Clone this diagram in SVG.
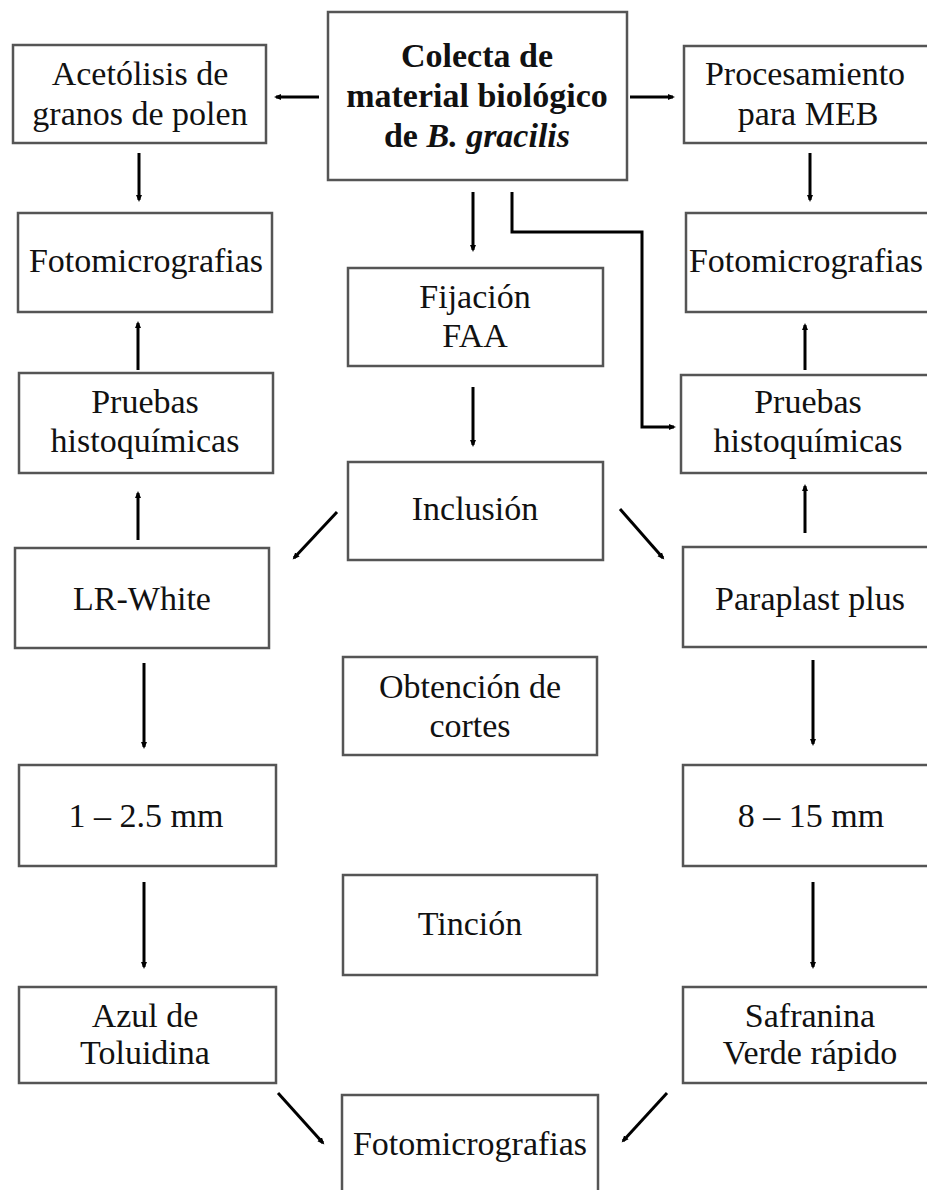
<svg xmlns="http://www.w3.org/2000/svg" width="927" height="1190" viewBox="0 0 927 1190">
<defs>
<marker id="ah" markerUnits="userSpaceOnUse" markerWidth="8" markerHeight="8" refX="5" refY="4" orient="auto">
<path d="M0,1 L7,4 L0,7 Z" fill="#000"/>
</marker>
<style>
.box{fill:#fff;stroke:#555;stroke-width:2.5}
.t{font-family:"Liberation Serif","Times New Roman",serif;font-size:34px;fill:#111;text-anchor:middle}
.b{font-weight:bold}
.c line,.c polyline{stroke:#000;stroke-width:3;fill:none;marker-end:url(#ah)}
</style>
</defs>
<rect width="927" height="1190" fill="#fff"/>
<g id="colecta"><rect class="box" x="328" y="12" width="299" height="168"/>
<text class="t b" x="477" y="67">Colecta de</text>
<text class="t b" x="477" y="107">material biológico</text>
<text class="t b" x="477" y="147">de <tspan font-style="italic">B. gracilis</tspan></text></g>
<g id="acetolisis"><rect class="box" x="13" y="45" width="253" height="98"/>
<text class="t" x="140" y="85">Acetólisis de</text>
<text class="t" x="140" y="125">granos de polen</text></g>
<g id="procesamiento"><rect class="box" x="684" y="46" width="256" height="97"/>
<text class="t" x="805" y="85">Procesamiento</text>
<text class="t" x="808" y="125">para MEB</text></g>
<g id="foto1"><rect class="box" x="18" y="213" width="254" height="99"/>
<text class="t" x="146" y="272">Fotomicrografias</text></g>
<g id="fijacion"><rect class="box" x="348" y="268" width="255" height="98"/>
<text class="t" x="475" y="308">Fijación</text>
<text class="t" x="475" y="347">FAA</text></g>
<g id="foto2"><rect class="box" x="686" y="213" width="254" height="99"/>
<text class="t" x="806" y="272">Fotomicrografias</text></g>
<g id="pruebas1"><rect class="box" x="19" y="373" width="254" height="100"/>
<text class="t" x="145" y="413">Pruebas</text>
<text class="t" x="145" y="452">histoquímicas</text></g>
<g id="pruebas2"><rect class="box" x="681" y="375" width="259" height="98"/>
<text class="t" x="808" y="413">Pruebas</text>
<text class="t" x="808" y="452">histoquímicas</text></g>
<g id="inclusion"><rect class="box" x="348" y="462" width="255" height="98"/>
<text class="t" x="475" y="520">Inclusión</text></g>
<g id="lrwhite"><rect class="box" x="15" y="548" width="254" height="100"/>
<text class="t" x="142" y="610">LR-White</text></g>
<g id="paraplast"><rect class="box" x="683" y="547" width="257" height="100"/>
<text class="t" x="810" y="610">Paraplast plus</text></g>
<g id="obtencion"><rect class="box" x="343" y="657" width="254" height="98"/>
<text class="t" x="470" y="698">Obtención de</text>
<text class="t" x="470" y="737">cortes</text></g>
<g id="mm1"><rect class="box" x="19" y="765" width="257" height="101"/>
<text class="t" x="146" y="827">1 – 2.5 mm</text></g>
<g id="mm2"><rect class="box" x="683" y="765" width="257" height="101"/>
<text class="t" x="811" y="827">8 – 15 mm</text></g>
<g id="tincion"><rect class="box" x="343" y="875" width="254" height="100"/>
<text class="t" x="470" y="935">Tinción</text></g>
<g id="azul"><rect class="box" x="19" y="987" width="257" height="96"/>
<text class="t" x="145" y="1027">Azul de</text>
<text class="t" x="145" y="1064">Toluidina</text></g>
<g id="safranina"><rect class="box" x="683" y="987" width="257" height="96"/>
<text class="t" x="810" y="1027">Safranina</text>
<text class="t" x="810" y="1064">Verde rápido</text></g>
<g id="foto3"><rect class="box" x="342" y="1095" width="256" height="110"/>
<text class="t" x="470" y="1155">Fotomicrografias</text></g>
<g id="connectors" class="c">
<line x1="319" y1="97" x2="276" y2="97"/>
<line x1="630" y1="97" x2="673" y2="97"/>
<line x1="139" y1="153" x2="139" y2="200"/>
<line x1="810" y1="153" x2="810" y2="200"/>
<line x1="473" y1="192" x2="473" y2="250"/>
<polyline points="512,192 512,232 642,232 642,427 674,427"/>
<line x1="138" y1="370" x2="138" y2="323"/>
<line x1="473" y1="387" x2="473" y2="445"/>
<line x1="805" y1="370" x2="805" y2="325"/>
<line x1="138" y1="540" x2="138" y2="493"/>
<line x1="805" y1="533" x2="805" y2="486"/>
<line x1="337" y1="512" x2="294" y2="558"/>
<line x1="620" y1="509" x2="663" y2="558"/>
<line x1="144" y1="663" x2="144" y2="747"/>
<line x1="813" y1="660" x2="813" y2="744"/>
<line x1="144" y1="882" x2="144" y2="967"/>
<line x1="813" y1="882" x2="813" y2="967"/>
<line x1="278" y1="1093" x2="323" y2="1143"/>
<line x1="667" y1="1093" x2="623" y2="1141"/>
</g>
</svg>
